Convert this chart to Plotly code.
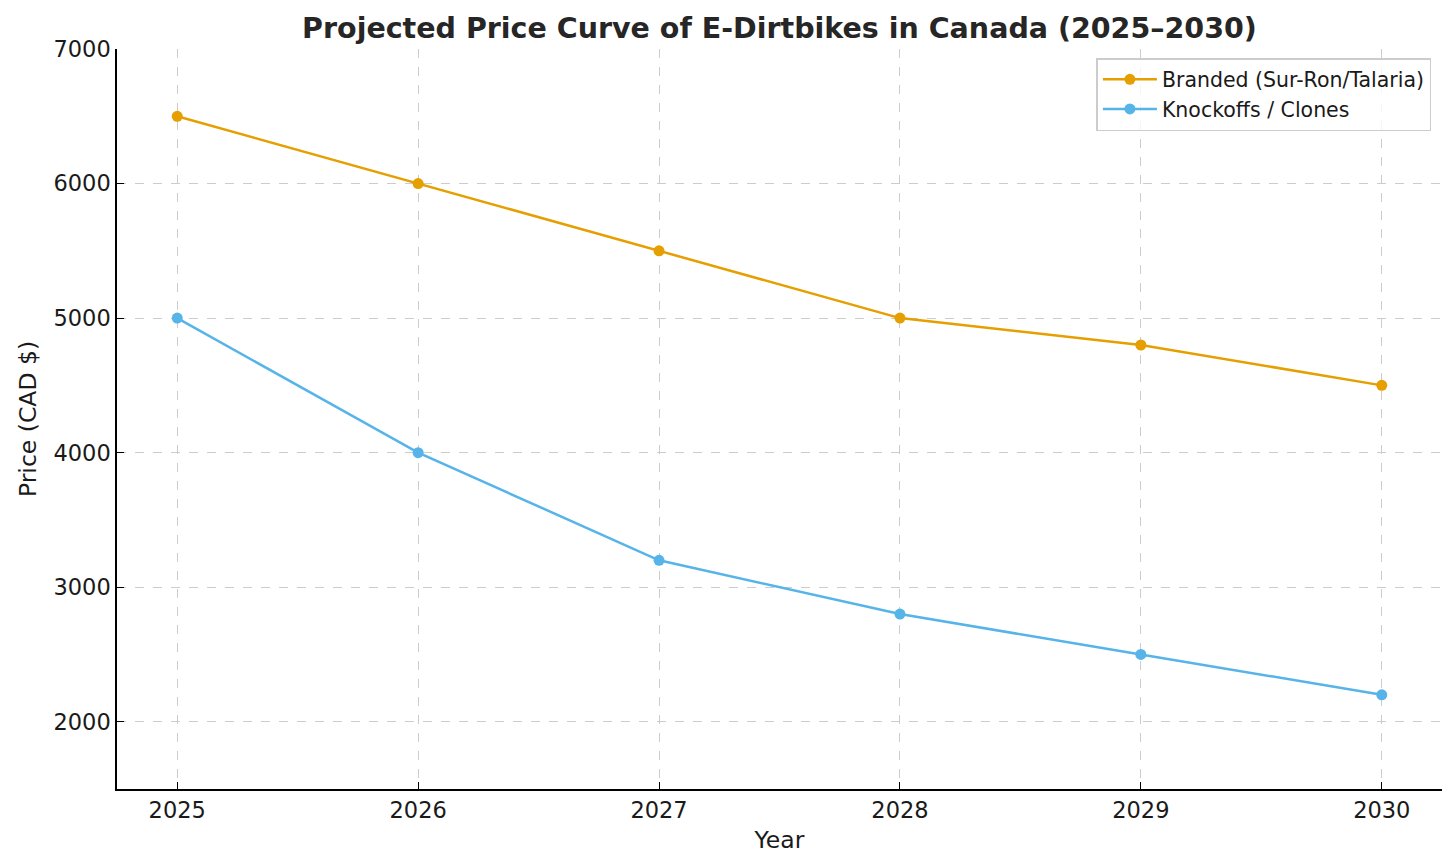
import plotly.graph_objects as go

years = [2025, 2026, 2027, 2028, 2029, 2030]
branded = [6500, 6000, 5500, 5000, 4800, 4500]
knockoffs = [5000, 4000, 3200, 2800, 2500, 2200]
series_names = ["Branded (Sur-Ron/Talaria)", "Knockoffs / Clones"]
colors = ["#E69F00", "#56B4E9"]

fig = go.Figure()
for name, vals, c in zip(series_names, [branded, knockoffs], colors):
    fig.add_trace(go.Scatter(x=years, y=vals, mode="lines+markers", name=name,
                             line=dict(color=c, width=2.5),
                             marker=dict(color=c, size=11)))

fig.update_layout(
    width=1456, height=868,
    paper_bgcolor="white", plot_bgcolor="white",
    font=dict(family="DejaVu Sans", color="#1a1a1a", size=22.5),
    title=dict(text="<b>Projected Price Curve of E-Dirtbikes in Canada (2025–2030)</b>",
               x=(117 + 1442) / 2 / 1456, xanchor="center", y=1 - 28 / 868, yanchor="middle",
               font=dict(size=28.5, color="#262626")),
    margin=dict(l=117, r=14, t=49, b=79),
    legend=dict(x=0.992, y=(789 - 58) / 740, xanchor="right", yanchor="top",
                bgcolor="rgba(255,255,255,0.8)", bordercolor="#cccccc", borderwidth=1.5,
                font=dict(size=20.5), tracegroupgap=0, itemwidth=54),
    showlegend=True,
)
fig.update_xaxes(range=[2024.75, 2030.25], tickvals=years, ticktext=[str(y) for y in years],
                 showgrid=True, gridcolor="#cccccc", griddash="dash", gridwidth=1,
                 showline=True, linecolor="black", linewidth=1.5,
                 ticks="inside", ticklen=7, tickcolor="black",
                 title=dict(text="Year", font=dict(size=23.5), standoff=10), zeroline=False)
fig.update_yaxes(range=[1500, 7000], tickvals=[2000, 3000, 4000, 5000, 6000, 7000],
                 showgrid=True, gridcolor="#cccccc", griddash="dash", gridwidth=1,
                 showline=True, linecolor="black", linewidth=1.5,
                 ticks="inside", ticklen=7, tickcolor="black",
                 title=dict(text="Price (CAD $)", font=dict(size=23.5), standoff=10), zeroline=False)

fig.write_html("out.html", config={"displayModeBar": False},
               post_script="document.body.style.margin='0';document.body.style.overflow='hidden';")
